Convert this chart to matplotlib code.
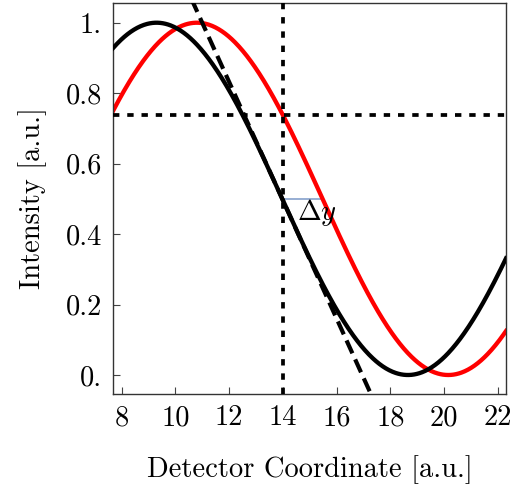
import numpy as np
import matplotlib
matplotlib.use("Agg")
import matplotlib.pyplot as plt

plt.rcParams['font.family'] = 'serif'
plt.rcParams['font.serif'] = ['cmr10', 'DejaVu Serif']
plt.rcParams['mathtext.fontset'] = 'cm'
plt.rcParams['axes.unicode_minus'] = False

# Curve parameters
period = 18.7
black_peak = 9.3
red_peak = 10.8
offset = 0.5
amplitude = 0.5
x_probe = 14.0
y_level = 0.738
dy_y = 0.5
dy_x_end = 15.48

xticks = [8, 10, 12, 14, 16, 18, 20, 22]
xticklabels = ['8', '10', '12', '14', '16', '18', '20', '22']
yticks = [0.0, 0.2, 0.4, 0.6, 0.8, 1.0]
yticklabels = ['0.', '0.2', '0.4', '0.6', '0.8', '1.']

xlim = (7.68, 22.3)
ylim = (-0.054, 1.056)

x = np.linspace(xlim[0], xlim[1], 600)
black = offset + amplitude * np.cos(2 * np.pi * (x - black_peak) / period)
red = offset + amplitude * np.cos(2 * np.pi * (x - red_peak) / period)

y0 = offset + amplitude * np.cos(2 * np.pi * (x_probe - black_peak) / period)
slope = -amplitude * 2 * np.pi / period * np.sin(2 * np.pi * (x_probe - black_peak) / period)
tangent = y0 + slope * (x - x_probe)

fig = plt.figure(figsize=(5.13, 4.97), dpi=100)
ax = fig.add_axes([0.2203, 0.2072, 0.7661, 0.7868])

ax.plot(x, black, color='black', lw=3.1, zorder=3)
ax.plot(x, red, color='#ff0000', lw=3.1, zorder=2)
ax.plot(x, tangent, color='black', lw=3.0, linestyle=(0, (3.4, 1.6)), zorder=3)
ax.axhline(y_level, color='black', lw=2.7, linestyle=(0, (1.7, 2.1)), zorder=4)
ax.axvline(x_probe, color='black', lw=2.7, linestyle=(0, (1.7, 2.1)), zorder=4)
ax.plot([x_probe, dy_x_end], [dy_y, dy_y], color='#8fa8d0', lw=1.3, zorder=1)
ax.text(15.25, 0.46, r'$\Delta y$', fontsize=20.5, ha='center', va='center', zorder=5)

ax.set_xlim(*xlim)
ax.set_ylim(*ylim)
ax.set_xticks(xticks)
ax.set_xticklabels(xticklabels)
ax.set_yticks(yticks)
ax.set_yticklabels(yticklabels)
ax.tick_params(direction='in', length=5, width=0.8, labelsize=20.5, pad=8, color='#444444')
for s in ax.spines.values():
    s.set_color('#333333')
    s.set_linewidth(1.0)

ax.set_xlabel('Detector Coordinate [a.u.]', fontsize=20.5, labelpad=17)
ax.set_ylabel('Intensity [a.u.]', fontsize=20.5, labelpad=13)

fig.savefig('out.png', dpi=100)
